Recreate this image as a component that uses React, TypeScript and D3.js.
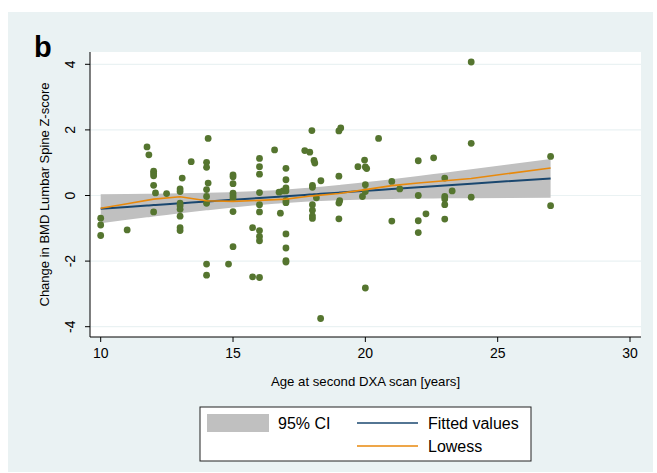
import React from "react";
import * as d3 from "d3";

// scatter: age at second DXA scan vs change in lumbar spine Z-score
const ages = [
  10, 10, 10, 11, 11.75, 11.82, 12, 12, 12, 12, 12, 12.07, 12.49,
  13, 13, 13, 13, 13, 13, 13, 13, 13.08, 13.42,
  14.06, 14, 14, 14.06, 14, 14, 14, 14, 14, 14.83,
  15, 15, 15, 15, 15, 15, 15, 15, 15.74, 15.74,
  16, 16, 16, 16, 16, 16, 16, 16, 16, 16, 16.57, 16.74, 16.89, 16.79,
  17, 17, 17, 17, 17, 17, 17, 17, 17, 17, 17.71, 17.9, 17.98,
  18.06, 18.09, 18.32, 18, 18, 18.15, 18, 18, 18, 18, 18.31,
  19, 19.07, 19, 19, 19.03, 19, 19.72, 19.97, 20, 20.05, 20, 20, 19.89, 20,
  20.5, 21, 21, 21.3, 22, 22, 22, 22, 22.29, 22.58,
  23, 23, 23, 23, 23, 23.28, 24, 24, 24, 27, 27,
];
const changes = [
  -0.69, -0.9, -1.22, -1.05, 1.48, 1.24, 0.74, 0.67, 0.6, 0.31, -0.5, 0.08, 0.06,
  0.2, 0.12, -0.23, -0.31, -0.42, -0.63, -0.98, -1.07, 0.53, 1.03,
  1.74, 1.01, 0.86, 0.38, 0.18, -0.03, -0.24, -2.09, -2.43, -2.09,
  0.63, 0.57, 0.36, 0.07, -0.01, -0.08, -0.49, -1.56, -0.98, -2.48,
  1.13, 0.88, 0.65, 0.09, -0.28, -0.5, -1.07, -1.25, -1.38, -2.5, 1.39, 0.1, 0.14, -0.54,
  0.83, 0.48, 0.23, 0.14, -0.15, -0.22, -1.17, -1.6, -1.99, -2.03, 1.37, 1.32, 1.98,
  1.07, 0.99, 0.45, 0.31, 0.25, -0.07, -0.28, -0.45, -0.62, -0.7, -3.75,
  1.97, 2.06, 0.59, -0.23, -0.16, -0.71, 0.88, 1.08, 0.87, 0.82, 0.33, 0.12, -0.03, -2.82,
  1.74, 0.43, -0.78, 0.2, 1.06, 0.0, -0.77, -1.13, -0.56, 1.15,
  0.53, -0.03, -0.11, -0.28, -0.72, 0.14, 4.07, 1.59, -0.05, 1.19, -0.31,
];

// lowess curve
const lowessAge = [10, 11, 12, 13, 14, 15, 16, 17, 18, 19, 20, 21, 22, 23, 24, 27];
const lowessValue = [-0.39, -0.25, -0.11, -0.04, -0.16, -0.18, -0.15, -0.11, -0.01, 0.06, 0.18, 0.3, 0.38, 0.45, 0.52, 0.84];

const xTicks = [10, 15, 20, 25, 30];
const yTicks = [-4, -2, 0, 2, 4];

const font = "'Liberation Sans', Arial, Helvetica, sans-serif";
const bg = "#eaf2f3";
const navy = "#1a476f";
const orange = "#e8890c";
const green = "#55752f";

export default function App() {
  const plot = { left: 90, right: 641, top: 52, bottom: 337 };

  const x = d3.scaleLinear().domain([10, 30]).range([100.7, 630]);
  const y = d3.scaleLinear().domain([-4, 4]).range([326.7, 64.3]);

  // linear fit with 95% CI of the mean
  const n = ages.length;
  const mx = d3.mean(ages) as number;
  const my = d3.mean(changes) as number;
  let sxx = 0;
  let sxy = 0;
  ages.forEach((a, i) => {
    sxx += (a - mx) ** 2;
    sxy += (a - mx) * (changes[i] - my);
  });
  const slope = sxy / sxx;
  const icpt = my - slope * mx;
  const sse = d3.sum(ages, (a, i) => (changes[i] - icpt - slope * a) ** 2);
  const s = Math.sqrt(sse / (n - 2));
  const tq = 1.98;
  const grid = Array.from(new Set(ages)).sort((p, q) => p - q);
  const band = grid.map((g) => {
    const fit = icpt + slope * g;
    const se = s * Math.sqrt(1 / n + (g - mx) ** 2 / sxx);
    return { g, fit, lo: fit - tq * se, hi: fit + tq * se };
  });

  const area = d3
    .area<any>()
    .x((d) => x(d.g))
    .y0((d) => y(d.lo))
    .y1((d) => y(d.hi));
  const fitLine = d3
    .line<any>()
    .x((d) => x(d.g))
    .y((d) => y(d.fit));
  const lowessLine = d3
    .line<number>()
    .x((d) => x(d))
    .y((d, i) => y(lowessValue[i]));

  const midX = (plot.left + plot.right) / 2;
  const midY = (plot.top + plot.bottom) / 2;

  return (
    <svg
      width={657}
      height={473}
      style={{ position: "absolute", left: 0, top: 0, display: "block" }}
      fontFamily={font}
    >
      <rect x={0} y={0} width={657} height={473} fill="#fff" />
      <rect x={8} y={12} width={645} height={460} fill={bg} />
      <rect x={plot.left} y={plot.top} width={plot.right - plot.left} height={plot.bottom - plot.top} fill="#fff" />

      {/* gridlines */}
      {yTicks.map((t) => (
        <line key={"g" + t} x1={plot.left} x2={plot.right} y1={y(t)} y2={y(t)} stroke={bg} strokeWidth={1.2} />
      ))}

      {/* CI band and fitted line */}
      <path d={area(band) as string} fill="#c0c0c0" />
      <path d={fitLine(band) as string} fill="none" stroke={navy} strokeWidth={2} />

      {/* points */}
      {ages.map((a, i) => (
        <circle key={i} cx={x(a)} cy={y(changes[i])} r={3.4} fill={green} />
      ))}

      <path d={lowessLine(lowessAge) as string} fill="none" stroke={orange} strokeWidth={1.6} />

      {/* axes */}
      <line x1={plot.left} x2={plot.left} y1={plot.top} y2={plot.bottom} stroke="#000" />
      <line x1={plot.left} x2={plot.right} y1={plot.bottom} y2={plot.bottom} stroke="#000" />
      {yTicks.map((t) => (
        <g key={"y" + t}>
          <line x1={plot.left - 5} x2={plot.left} y1={y(t)} y2={y(t)} stroke="#000" />
          <text
            x={75}
            y={y(t)}
            transform={`rotate(-90, 75, ${y(t)})`}
            textAnchor="middle"
            fontSize={14}
            fill="#000"
          >
            {t}
          </text>
        </g>
      ))}
      {xTicks.map((t) => (
        <g key={"x" + t}>
          <line x1={x(t)} x2={x(t)} y1={plot.bottom} y2={plot.bottom + 5} stroke="#000" />
          <text x={x(t)} y={358} textAnchor="middle" fontSize={14} fill="#000">
            {t}
          </text>
        </g>
      ))}

      <text x={midX} y={386} textAnchor="middle" fontSize={13.2} fill="#000">
        Age at second DXA scan [years]
      </text>
      <text
        x={49}
        y={midY}
        transform={`rotate(-90, 49, ${midY})`}
        textAnchor="middle"
        fontSize={13}
        fill="#000"
      >
        Change in BMD Lumbar Spine Z-score
      </text>

      <text x={34} y={57} fontSize={29} fontWeight="bold" fill="#000">
        b
      </text>

      {/* legend */}
      <rect x={200} y={407} width={331} height={54} fill="#fff" stroke="#222" strokeWidth={1} />
      <rect x={207} y={414} width={62} height={18} fill="#c0c0c0" />
      <text x={278} y={429} fontSize={16} fill="#000">
        95% CI
      </text>
      <line x1={357} x2={418} y1={423} y2={423} stroke={navy} strokeWidth={1.5} />
      <text x={428} y={429} fontSize={16} fill="#000">
        Fitted values
      </text>
      <line x1={357} x2={418} y1={446} y2={446} stroke={orange} strokeWidth={1.5} />
      <text x={428} y={452} fontSize={16} fill="#000">
        Lowess
      </text>
    </svg>
  );
}
